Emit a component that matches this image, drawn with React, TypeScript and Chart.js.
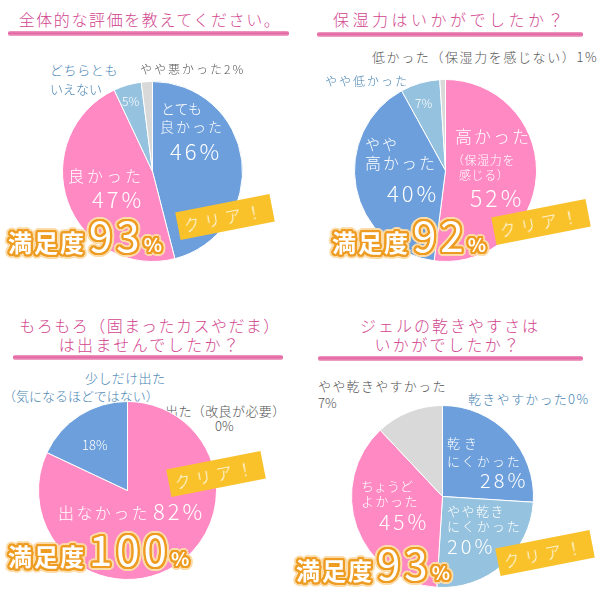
import React, { useEffect, useRef } from 'react';
import { Chart, registerables } from 'chart.js';

Chart.register(...registerables);

const FONT = '"Noto Sans CJK JP", "Noto Sans", sans-serif';

const BLUE = '#6c9fdc';
const PINK = '#ff89c3';
const LIGHT = '#95c2de';
const GREY = '#d9d9d9';
const TITLE = '#d2458e';
const NOTE_BLUE = '#4a85b3';
const NOTE_GREY = '#555555';
const BADGE = '#f9c22a';
const LINE = '#e2619f';

// 全体的な評価
const overallLabels = ['とても良かった', '良かった', 'どちらともいえない', 'やや悪かった'];
const overallValues = [46, 47, 5, 2];
const overallColors = [BLUE, PINK, LIGHT, GREY];

// 保湿力
const moistLabels = ['高かった（保湿力を感じる）', 'やや高かった', 'やや低かった', '低かった（保湿力を感じない）'];
const moistValues = [52, 40, 7, 1];
const moistColors = [PINK, BLUE, LIGHT, GREY];

// もろもろ
const residueLabels = ['出なかった', '少しだけ出た（気になるほどではない）', '出た（改良が必要）'];
const residueValues = [82, 18, 0];
const residueColors = [PINK, BLUE, GREY];

// ジェルの乾きやすさ (printed percentages, and the slice sizes as drawn)
const dryLabels = ['乾きやすかった', '乾きにくかった', 'やや乾きにくかった', 'ちょうどよかった', 'やや乾きやすかった'];
const dryPercents = [0, 28, 20, 45, 7];
const dryDrawn = [0, 26, 25, 37, 12];
const dryColors = [BLUE, BLUE, LIGHT, PINK, GREY];

const satisfaction = [93, 92, 100, 93];

type PieProps = { labels: string[]; values: number[]; colors: string[]; cx: number; cy: number; r: number };

const Pie: React.FC<PieProps> = ({ labels, values, colors, cx, cy, r }) => {
  const ref = useRef<HTMLCanvasElement>(null);

  useEffect(() => {
    if (!ref.current) return;
    const chart = new Chart(ref.current, {
      type: 'pie',
      data: {
        labels,
        datasets: [{ data: values, backgroundColor: colors, borderColor: '#ffffff', borderWidth: 1 }],
      },
      options: {
        responsive: false,
        animation: false,
        events: [],
        layout: { padding: 0 },
        plugins: { legend: { display: false }, tooltip: { enabled: false } },
      },
    });
    return () => chart.destroy();
  }, []);

  const size = 2 * r + 1;
  return (
    <canvas
      ref={ref}
      width={size}
      height={size}
      style={{ position: 'absolute', left: cx - size / 2, top: cy - size / 2, width: size, height: size }}
    />
  );
};

type TxtProps = { x: number; y: number; size: number; color?: string; ls?: number; children: React.ReactNode };

const Txt: React.FC<TxtProps> = ({ x, y, size, color = '#fff', ls = 0, children }) => (
  <div
    style={{
      position: 'absolute',
      left: x,
      top: y,
      fontSize: size,
      fontWeight: 300,
      color,
      letterSpacing: ls,
      lineHeight: 1,
      whiteSpace: 'nowrap',
      fontFamily: FONT,
    }}
  >
    {children}
  </div>
);

const Title: React.FC<{ cx: number; y: number; ls: number; children: React.ReactNode }> = ({ cx, y, ls, children }) => (
  <div
    style={{
      position: 'absolute',
      left: cx - 150,
      width: 300,
      top: y,
      textAlign: 'center',
      fontSize: 16,
      fontWeight: 300,
      color: TITLE,
      letterSpacing: ls,
      lineHeight: 1,
      whiteSpace: 'nowrap',
      fontFamily: FONT,
    }}
  >
    {children}
  </div>
);

const Underline: React.FC<{ x1: number; x2: number; y: number }> = ({ x1, x2, y }) => (
  <div
    style={{
      position: 'absolute',
      left: x1,
      top: y,
      width: x2 - x1,
      height: 5,
      borderRadius: 2,
      background: `linear-gradient(180deg, ${LINE}99 0%, ${LINE} 45%, ${LINE}88 100%)`,
    }}
  />
);

const Badge: React.FC<{ cx: number; cy: number }> = ({ cx, cy }) => (
  <div
    style={{
      position: 'absolute',
      left: cx - 48,
      top: cy - 14,
      width: 96,
      height: 28,
      background: BADGE,
      transform: 'rotate(-11deg)',
      color: '#fff',
      fontFamily: FONT,
      fontWeight: 300,
      fontSize: 16,
      letterSpacing: 5,
      lineHeight: '28px',
      textAlign: 'center',
      whiteSpace: 'nowrap',
    }}
  >
    クリア！
  </div>
);

const ring = (c: string, w: number) => {
  const parts: string[] = [];
  for (let i = 0; i < 16; i++) {
    const t = (i * Math.PI) / 8;
    parts.push(`${(Math.cos(t) * w).toFixed(1)}px ${(Math.sin(t) * w).toFixed(1)}px 0 ${c}`);
  }
  return parts.join(', ');
};
const SAT_SHADOW = `${ring('#ee9c22', 2.2)}, ${ring('#fcdcaa', 4.2)}`;

const Satisfaction: React.FC<{ x: number; base: number; value: number }> = ({ x, base, value }) => (
  <div
    style={{
      position: 'absolute',
      left: x,
      top: base - 39.3,
      display: 'flex',
      alignItems: 'baseline',
      color: '#fff',
      fontFamily: FONT,
      fontWeight: 700,
      lineHeight: 1,
      whiteSpace: 'nowrap',
      textShadow: SAT_SHADOW,
    }}
  >
    <span style={{ fontSize: 24, letterSpacing: 2 }}>満足度</span>
    <span style={{ fontSize: 42, letterSpacing: 4, marginLeft: 3, fontWeight: 400 }}>{value}</span>
    <span style={{ fontSize: 19 }}>%</span>
  </div>
);

export default function App() {
  return (
    <div
      style={{
        position: 'absolute',
        left: 0,
        top: 0,
        width: 600,
        height: 600,
        background: '#fff',
        overflow: 'hidden',
        fontFamily: FONT,
      }}
    >
      {/* 1: 全体的な評価 */}
      <Title cx={150} y={11} ls={1.6}>全体的な評価を教えてください。</Title>
      <Underline x1={8} x2={289} y={31} />
      <Pie labels={overallLabels} values={overallValues} colors={overallColors} cx={152} cy={171} r={90} />
      <Txt x={50} y={63} size={13} color={NOTE_BLUE} ls={0.6}>どちらとも</Txt>
      <Txt x={50} y={82} size={13} color={NOTE_BLUE}>いえない</Txt>
      <Txt x={140} y={63} size={12} color={NOTE_GREY} ls={2}>{overallLabels[3]}{overallValues[3]}%</Txt>
      <Txt x={122} y={95} size={12}>{overallValues[2]}%</Txt>
      <Txt x={161} y={101} size={14} ls={0}>とても</Txt>
      <Txt x={160} y={119} size={14} ls={2}>良かった</Txt>
      <Txt x={170} y={139} size={22} ls={3}>{overallValues[0]}%</Txt>
      <Txt x={68} y={167} size={16} ls={3}>{overallLabels[1]}</Txt>
      <Txt x={92} y={187} size={22} ls={3}>{overallValues[1]}%</Txt>
      <Badge cx={225} cy={217} />
      <Satisfaction x={8} base={252} value={satisfaction[0]} />

      {/* 2: 保湿力 */}
      <Title cx={450} y={11} ls={3.5}>保湿力はいかがでしたか？</Title>
      <Underline x1={317} x2={583} y={32} />
      <Txt x={372} y={50} size={13} color={NOTE_GREY} ls={1.6}>{moistLabels[3]}{moistValues[3]}%</Txt>
      <Pie labels={moistLabels} values={moistValues} colors={moistColors} cx={445} cy={170} r={91} />
      <Txt x={325} y={75} size={12} color={NOTE_BLUE} ls={2}>{moistLabels[2]}</Txt>
      <Txt x={415} y={97} size={12}>{moistValues[2]}%</Txt>
      <Txt x={455} y={127} size={17} ls={2}>高かった</Txt>
      <Txt x={452} y={154} size={12} ls={0.6}>（保湿力を</Txt>
      <Txt x={459} y={169} size={12} ls={0.6}>感じる）</Txt>
      <Txt x={470} y={186} size={23} ls={3}>{moistValues[0]}%</Txt>
      <Txt x={365} y={136} size={15} ls={2}>やや</Txt>
      <Txt x={365} y={154} size={16} ls={2}>高かった</Txt>
      <Txt x={387} y={181} size={22} ls={3}>{moistValues[1]}%</Txt>
      <Badge cx={541} cy={222} />
      <Satisfaction x={332} base={252} value={satisfaction[1]} />

      {/* 3: もろもろ */}
      <Title cx={150} y={317} ls={1.5}>もろもろ（固まったカスやだま）</Title>
      <Title cx={150} y={336} ls={2.4}>は出ませんでしたか？</Title>
      <Underline x1={13} x2={283} y={355} />
      <Txt x={85} y={371} size={13} color={NOTE_BLUE} ls={0.4}>少しだけ出た</Txt>
      <Txt x={3} y={389} size={13} color={NOTE_BLUE}>（気になるほどではない）</Txt>
      <Txt x={165} y={404} size={13} color={NOTE_GREY} ls={0.4}>{residueLabels[2]}</Txt>
      <Txt x={215} y={419} size={13} color={NOTE_GREY}>{residueValues[2]}%</Txt>
      <Pie labels={residueLabels} values={residueValues} colors={residueColors} cx={127} cy={490} r={89} />
      <Txt x={82} y={438} size={13}>{residueValues[1]}%</Txt>
      <Txt x={58} y={504} size={16} ls={2.4}>{residueLabels[0]}</Txt>
      <Txt x={153} y={499} size={22} ls={3}>{residueValues[0]}%</Txt>
      <Badge cx={216} cy={474} />
      <Satisfaction x={8} base={566} value={satisfaction[2]} />

      {/* 4: ジェルの乾きやすさ */}
      <Title cx={450} y={317} ls={2}>ジェルの乾きやすさは</Title>
      <Title cx={448} y={336} ls={2.4}>いかがでしたか？</Title>
      <Underline x1={318} x2={583} y={356} />
      <Txt x={318} y={379} size={13} color={NOTE_GREY} ls={1.3}>{dryLabels[4]}</Txt>
      <Txt x={318} y={396} size={13} color={NOTE_GREY}>{dryPercents[4]}%</Txt>
      <Txt x={468} y={392} size={13} color={NOTE_BLUE} ls={1.3}>{dryLabels[0]}{dryPercents[0]}%</Txt>
      <Pie labels={dryLabels} values={dryDrawn} colors={dryColors} cx={442} cy={496} r={91} />
      <Txt x={447} y={436} size={13} ls={4}>乾き</Txt>
      <Txt x={447} y={454} size={13} ls={2}>にくかった</Txt>
      <Txt x={480} y={470} size={20} ls={3}>{dryPercents[1]}%</Txt>
      <Txt x={361} y={479} size={13}>ちょうど</Txt>
      <Txt x={361} y={494} size={13} ls={1.5}>よかった</Txt>
      <Txt x={379} y={511} size={21} ls={3}>{dryPercents[3]}%</Txt>
      <Txt x={447} y={504} size={13} ls={1.5}>やや乾き</Txt>
      <Txt x={447} y={519} size={13} ls={2}>にくかった</Txt>
      <Txt x={447} y={536} size={20} ls={3}>{dryPercents[2]}%</Txt>
      <Badge cx={545} cy={553} />
      <Satisfaction x={296} base={580} value={satisfaction[3]} />
    </div>
  );
}
